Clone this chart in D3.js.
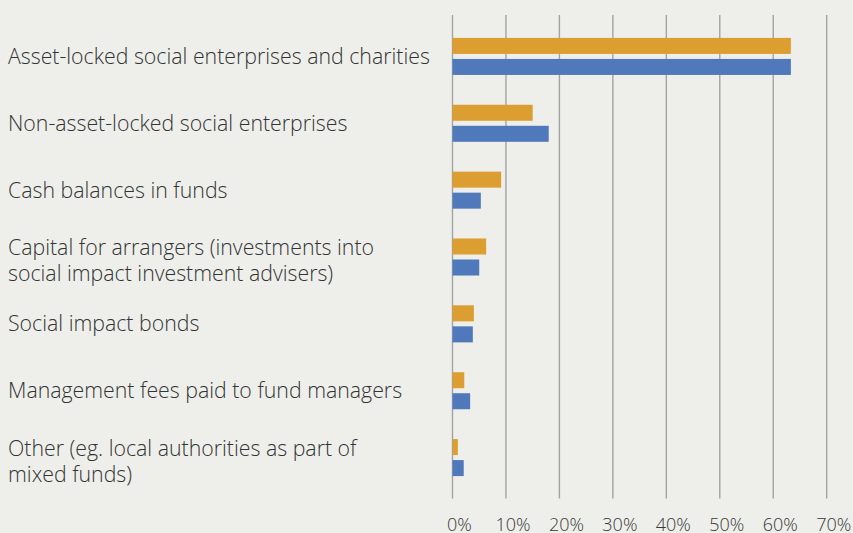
<!DOCTYPE html>
<html><head><meta charset="utf-8">
<script src="https://cdn.jsdelivr.net/npm/d3@7"></script>
<style>
html,body{margin:0;padding:0;background:#eeefeb;}
svg{display:block;}
text{font-family:"Open Sans",sans-serif;}
</style></head>
<body>
<svg id="chart" width="853" height="533"></svg>
<script>
const categories = [
  ["Asset-locked social enterprises and charities"],
  ["Non-asset-locked social enterprises"],
  ["Cash balances in funds"],
  ["Capital for arrangers (investments into", "social impact investment advisers)"],
  ["Social impact bonds"],
  ["Management fees paid to fund managers"],
  ["Other (eg. local authorities as part of", "mixed funds)"]
];
const seriesNames = ["Series 1", "Series 2"];
const series1 = [63.3, 15.0, 9.1, 6.3, 4.0, 2.2, 1.0];
const series2 = [63.3, 18.0, 5.3, 5.0, 3.8, 3.3, 2.1];
const ticks = [0, 10, 20, 30, 40, 50, 60, 70];
const colors = ["#dc9e31", "#5079bb"];

const svg = d3.select("#chart");
const keys = categories.map((c, i) => i);
const x = d3.scaleLinear().domain([0, 70]).range([452.5, 826.7]);
const y = d3.scaleBand().domain(keys).range([23, 491]).paddingInner(0.446).paddingOuter(0.223);
const inner = d3.scaleBand().domain(seriesNames).range([0, y.bandwidth()]).paddingInner(0.238);

// gridlines
svg.append("g").selectAll("line").data(ticks).join("line")
  .attr("x1", d => x(d)).attr("x2", d => x(d))
  .attr("y1", 15).attr("y2", 498.5)
  .attr("stroke", "#a3a4a0").attr("stroke-width", 1.4);

// tick labels
svg.append("g").selectAll("text").data(ticks).join("text")
  .attr("x", d => x(d) + 7).attr("y", 530.5)
  .attr("text-anchor", "middle")
  .attr("font-size", 18).attr("font-weight", 300)
  .attr("fill", "#383838")
  .text(d => d + "%");

// bars
const data = [];
keys.forEach(i => {
  data.push({cat: i, s: seriesNames[0], v: series1[i], c: colors[0]});
  data.push({cat: i, s: seriesNames[1], v: series2[i], c: colors[1]});
});
svg.append("g").selectAll("rect").data(data).join("rect")
  .attr("x", x(0))
  .attr("y", d => y(d.cat) + inner(d.s))
  .attr("width", d => x(d.v) - x(0))
  .attr("height", inner.bandwidth())
  .attr("fill", d => d.c);

// category labels
const lab = svg.append("g").selectAll("text").data(keys).join("text")
  .attr("x", 8)
  .attr("font-size", 21.3).attr("font-weight", 300)
  .attr("fill", "#333333");
lab.each(function(i) {
  const c = y(i) + y.bandwidth() / 2;
  const lines = categories[i];
  const t = d3.select(this);
  if (lines.length === 1) {
    t.append("tspan").attr("x", 8).attr("y", c + 7.5).text(lines[0]);
  } else {
    t.append("tspan").attr("x", 8).attr("y", c - 2).text(lines[0]);
    t.append("tspan").attr("x", 8).attr("y", c + 24).text(lines[1]);
  }
});
</script>
</body></html>
